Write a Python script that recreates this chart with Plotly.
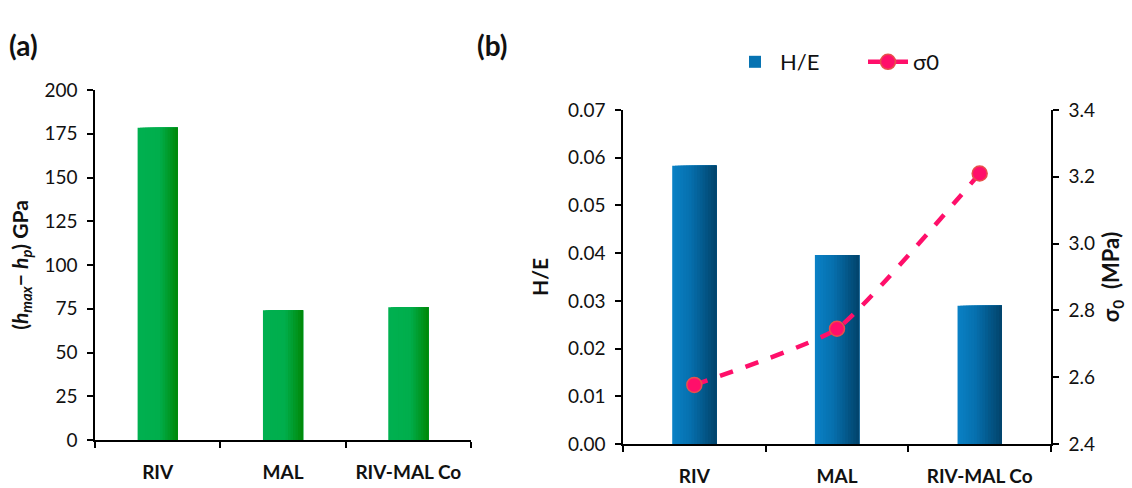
import plotly.graph_objects as go

categories = ["RIV", "MAL", "RIV-MAL Co"]
recovery_gpa = [178.5, 74.2, 75.8]
h_over_e = [0.0583, 0.0396, 0.0290]
sigma0 = [2.577, 2.745, 3.210]

W, H = 1132, 488
FONT = "Lato"

def px_x(p):
    return p / W

def px_y(p):
    return (H - p) / H

def hex2rgb(h):
    h = h.lstrip("#")
    return tuple(int(h[i:i+2], 16) for i in (0, 2, 4))

def mix(c1, c2, t):
    a, b = hex2rgb(c1), hex2rgb(c2)
    return "rgb(%d,%d,%d)" % tuple(round(a[i] + (b[i] - a[i]) * t) for i in range(3))

def colour_at(stops, t):
    for j in range(len(stops) - 1):
        p0, c0 = stops[j]
        p1, c1 = stops[j + 1]
        if p0 <= t <= p1:
            return mix(c0, c1, (t - p0) / (p1 - p0) if p1 > p0 else 0)
    return stops[-1][1]

fig = go.Figure()

def gradient_bars(x, y, xaxis, yaxis, stops, width, nstrips, name, showlegend):
    sw = width / nstrips
    for i in range(nstrips):
        t = i / (nstrips - 1)
        col = colour_at(stops, t)
        fig.add_trace(go.Bar(
            x=x, y=y, xaxis=xaxis, yaxis=yaxis,
            width=[width - i * sw] * len(x), offset=[-width / 2 + i * sw] * len(x),
            marker=dict(color=col, line=dict(width=0)),
            name=name, showlegend=(showlegend and i == nstrips // 3),
            legendgroup=name, hoverinfo="skip" if i else None,
        ))

green_stops = [(0, "#00B050"), (0.55, "#00AE4C"), (1, "#008A0C")]
blue_stops = [(0, "#0A80C4"), (0.4, "#0670AE"), (1, "#02456E")]

gradient_bars(categories, recovery_gpa, "x", "y", green_stops, 0.32, 16, "recovery", False)
gradient_bars(categories, h_over_e, "x2", "y2", blue_stops, 0.31, 16, "H/E", True)

fig.add_trace(go.Scatter(
    x=categories, y=sigma0, xaxis="x2", yaxis="y3", name="σ0",
    mode="lines+markers",
    line=dict(color="#FF0F6A", width=4.5, dash="dash", shape="spline", smoothing=0.45),
    marker=dict(size=15, color="#FF0F6A", line=dict(color="#E8504A", width=1.5)),
))

tickfont = dict(family=FONT, size=19, color="#111")
bold_tick = dict(family=FONT, size=19, color="#111", weight="bold")
axis_common = dict(showline=True, linecolor="black", linewidth=1.5, ticks="outside",
                   tickcolor="black", ticklen=6, tickwidth=1.5, showgrid=False,
                   zeroline=False, fixedrange=True, automargin=False)

fig.update_layout(
    width=W, height=H,
    margin=dict(l=0, r=0, t=0, b=0),
    paper_bgcolor="white", plot_bgcolor="white",
    barmode="overlay",
    font=dict(family=FONT, color="#111"),
    xaxis=dict(domain=[px_x(95), px_x(471)], anchor="y", type="category",
               tickson="boundaries", tickfont=bold_tick, ticklabelstandoff=14,
               range=[-0.5, 2.5], **axis_common),
    yaxis=dict(domain=[px_y(440), px_y(90)], anchor="x", range=[0, 200], dtick=25,
               tickfont=tickfont, ticklabelstandoff=6,
               title=dict(text="<b>(<i>h</i><sub><i>max</i></sub>− <i>h</i><sub><i>p</i></sub>) GPa</b>",
                          font=dict(family=FONT, size=21), standoff=10),
               **axis_common),
    xaxis2=dict(domain=[px_x(623), px_x(1051)], anchor="y2", type="category",
                tickson="boundaries", tickfont=bold_tick, ticklabelstandoff=14,
                range=[-0.5, 2.5], **axis_common),
    yaxis2=dict(domain=[px_y(444), px_y(110)], anchor="x2", range=[0, 0.07], dtick=0.01,
                tickformat=".2f", tickfont=tickfont, ticklabelstandoff=6,
                title=dict(text="<b>H/E</b>", font=dict(family=FONT, size=21), standoff=14),
                **axis_common),
    yaxis3=dict(domain=[px_y(444), px_y(110)], anchor="x2", overlaying="y2", side="right",
                range=[2.4, 3.4], dtick=0.2, tickformat=".1f", tickfont=tickfont,
                ticklabelstandoff=6,
                title=dict(text="<b>σ<sub>0</sub>  (MPa)</b>", font=dict(family=FONT, size=22), standoff=10),
                **axis_common),
    legend=dict(orientation="h", x=px_x(730), xanchor="left", y=px_y(62), yanchor="middle",
                font=dict(family=FONT, size=22, color="#111"), bgcolor="rgba(0,0,0,0)",
                itemwidth=40, tracegroupgap=0, entrywidth=78),
    annotations=[
        dict(text="<b>(a)</b>", x=px_x(7), y=px_y(45), xref="paper", yref="paper",
             xanchor="left", yanchor="middle", showarrow=False,
             font=dict(family=FONT, size=28, color="#111")),
        dict(text="<b>(b)</b>", x=px_x(475), y=px_y(45), xref="paper", yref="paper",
             xanchor="left", yanchor="middle", showarrow=False,
             font=dict(family=FONT, size=28, color="#111")),
    ],
)

fig.write_html("out.html")
